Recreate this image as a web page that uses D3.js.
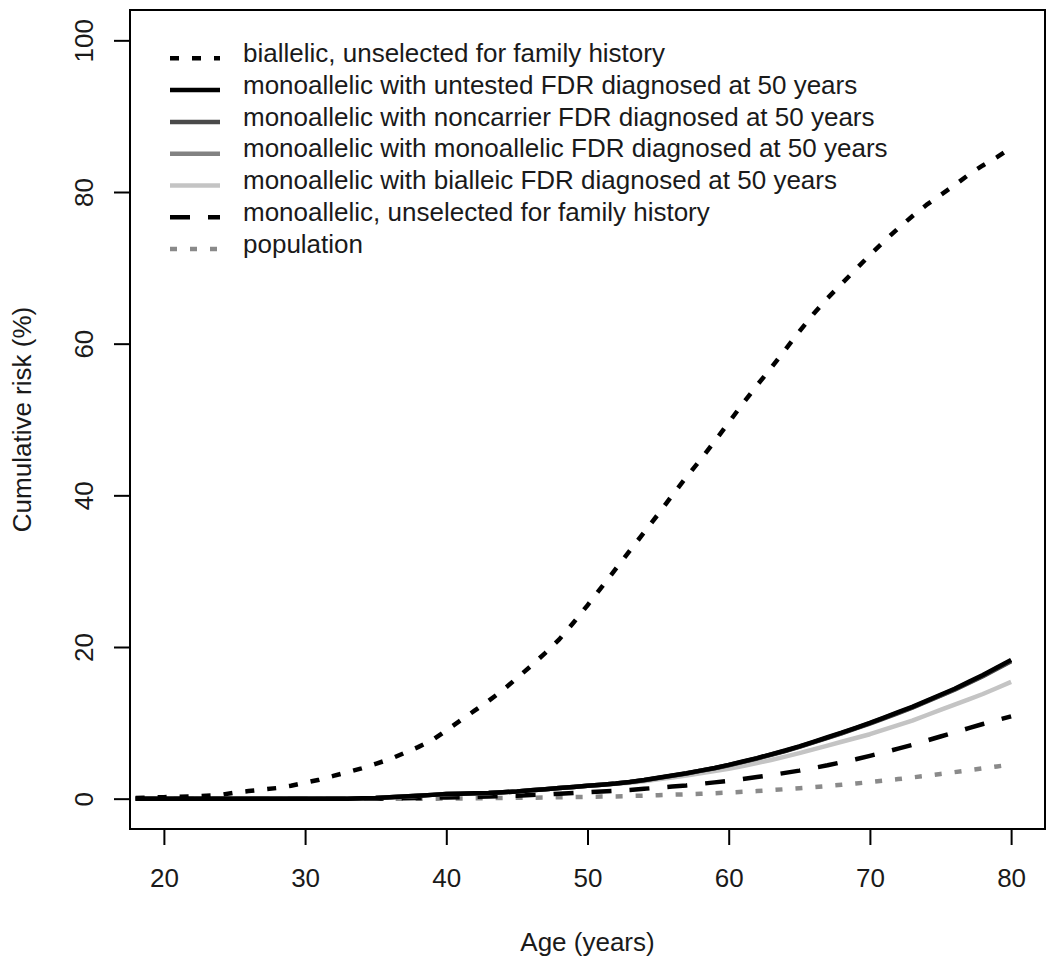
<!DOCTYPE html>
<html>
<head>
<meta charset="utf-8">
<script src="https://cdn.jsdelivr.net/npm/d3@7"></script>
<style>
  html, body { margin: 0; padding: 0; background: #fff; }
  svg { display: block; font-family: "Liberation Sans", Arial, sans-serif; }
</style>
</head>
<body>
<svg id="chart" width="1050" height="965"></svg>
<script>
// ---------- data ----------
const ages = d3.range(18, 81); // 18..80

const biallelic = [0.1,0.15,0.2,0.25,0.3,0.4,0.5,0.8,1.0,1.2,1.4,1.7,2.1,2.5,3.0,3.5,4.0,4.6,5.2,6.0,6.8,7.7,9.0,
  10.3,11.6,12.9,14.3,15.9,17.5,19.2,21.0,23.2,25.5,27.9,30.3,32.7,35.1,37.5,40.0,42.4,44.7,47.1,49.6,
  52.1,54.5,56.8,59.2,61.6,63.9,66.0,67.9,69.8,71.7,73.5,75.2,76.8,78.3,79.6,80.9,82.3,83.5,84.6,85.8];

const untestedFDR = [0,0,0,0,0,0,0,0,0,0,0,0,0,0,0,0,0.05,0.1,0.2,0.3,0.4,0.5,0.6,
  0.65,0.7,0.75,0.85,0.95,1.1,1.25,1.4,1.55,1.7,1.85,2.0,2.2,2.45,2.75,3.05,3.35,3.7,4.05,4.45,
  4.9,5.35,5.85,6.35,6.9,7.5,8.1,8.7,9.35,10.0,10.7,11.4,12.1,12.9,13.7,14.5,15.4,16.3,17.3,18.3];

const noncarrierFDR = [0,0,0,0,0,0,0,0,0,0,0,0,0,0,0,0,0.05,0.1,0.2,0.3,0.4,0.5,0.6,
  0.65,0.7,0.75,0.85,0.95,1.1,1.25,1.4,1.55,1.7,1.84,1.99,2.19,2.43,2.73,3.03,3.32,3.67,4.01,4.41,
  4.85,5.3,5.79,6.29,6.83,7.43,8.02,8.62,9.26,9.91,10.6,11.29,11.99,12.78,13.57,14.37,15.25,16.15,17.13,18.12];

const monoallelicFDR = [0,0,0,0,0,0,0,0,0,0,0,0,0,0,0,0,0.05,0.1,0.2,0.3,0.4,0.5,0.6,
  0.65,0.7,0.75,0.85,0.95,1.1,1.25,1.4,1.55,1.7,1.84,1.99,2.19,2.44,2.74,3.04,3.33,3.68,4.03,4.43,
  4.87,5.32,5.82,6.32,6.86,7.46,8.06,8.66,9.3,9.95,10.65,11.34,12.04,12.84,13.63,14.43,15.32,16.22,17.22,18.2];

const biallelicFDR = [0,0,0,0,0,0,0,0,0,0,0,0,0,0,0,0,0.05,0.1,0.2,0.3,0.4,0.5,0.6,
  0.65,0.7,0.75,0.85,0.95,1.1,1.25,1.4,1.55,1.7,1.83,1.95,2.1,2.3,2.55,2.8,3.05,3.35,3.65,3.95,
  4.3,4.7,5.1,5.55,6.0,6.5,7.0,7.5,8.0,8.5,9.1,9.7,10.3,11.0,11.7,12.4,13.1,13.8,14.6,15.4];

const monoallelicUnselected = [0,0,0,0,0,0,0,0,0,0,0,0,0,0,0,0,0,0,0.02,0.05,0.08,0.12,0.16,
  0.2,0.25,0.3,0.35,0.4,0.48,0.55,0.65,0.75,0.85,0.95,1.05,1.15,1.3,1.45,1.6,1.75,1.95,2.15,2.35,
  2.6,2.85,3.1,3.4,3.7,4.05,4.4,4.8,5.2,5.65,6.1,6.6,7.1,7.65,8.2,8.75,9.3,9.85,10.35,10.85];

const population = [0,0,0,0,0,0,0,0,0,0,0,0,0,0,0,0,0,0,0,0,0,0,0.02,
  0.03,0.05,0.07,0.09,0.11,0.13,0.15,0.18,0.21,0.24,0.27,0.3,0.35,0.4,0.46,0.52,0.58,0.64,0.72,0.8,
  0.9,1.0,1.12,1.25,1.38,1.52,1.67,1.83,2.0,2.18,2.38,2.58,2.8,3.02,3.26,3.5,3.75,4.0,4.25,4.5];

const seriesNames = [
  "biallelic, unselected for family history",
  "monoallelic with untested FDR diagnosed at 50 years",
  "monoallelic with noncarrier FDR diagnosed at 50 years",
  "monoallelic with monoallelic FDR diagnosed at 50 years",
  "monoallelic with bialleic FDR diagnosed at 50 years",
  "monoallelic, unselected for family history",
  "population"
];
const seriesValues = [biallelic, untestedFDR, noncarrierFDR, monoallelicFDR, biallelicFDR, monoallelicUnselected, population];
const seriesColors = ["#000000", "#000000", "#4a4a4a", "#828282", "#c4c4c4", "#000000", "#8a8a8a"];
const seriesDash   = ["9,13", null, null, null, null, "20,18", "7,13"];
// draw order (first drawn = bottom)
const drawOrder = [6, 5, 4, 3, 2, 1, 0];

const xTicks = [20, 30, 40, 50, 60, 70, 80];
const yTicks = [0, 20, 40, 60, 80, 100];

// ---------- layout ----------
const svg = d3.select("#chart");
const mLeft = 130, mRight = 1045, mTop = 10, mBottom = 829;
const x = d3.scaleLinear().domain([17.6, 82.4]).range([mLeft, mRight]);
const y = d3.scaleLinear().domain([-4, 104]).range([mBottom, mTop]);
const textColor = "#1a1a1a";
const FONT = "Liberation Sans, Arial, sans-serif";
const FS = 26;

svg.append("defs").append("clipPath").attr("id", "clip")
  .append("rect").attr("x", mLeft).attr("y", mTop).attr("width", mRight - mLeft).attr("height", mBottom - mTop);

// lines
const line = d3.line().x((d, i) => x(ages[i])).y(d => y(d));
const plotG = svg.append("g").attr("clip-path", "url(#clip)");
drawOrder.forEach(k => {
  plotG.append("path")
    .datum(seriesValues[k])
    .attr("d", line)
    .attr("fill", "none")
    .attr("stroke", seriesColors[k])
    .attr("stroke-width", 4.5)
    .attr("stroke-dasharray", seriesDash[k])
    .attr("stroke-linejoin", "round");
});

// box
svg.append("rect").attr("x", mLeft).attr("y", mTop).attr("width", mRight - mLeft).attr("height", mBottom - mTop)
  .attr("fill", "none").attr("stroke", "#000").attr("stroke-width", 2);

// x axis
const xAxis = svg.append("g").attr("transform", `translate(0,${mBottom})`)
  .call(d3.axisBottom(x).tickValues(xTicks).tickSize(16).tickFormat(d3.format("d")));
xAxis.select(".domain").remove();
xAxis.selectAll(".tick line").attr("stroke", "#000").attr("stroke-width", 2);
xAxis.selectAll(".tick text").attr("y", 58).attr("dy", null)
  .attr("font-size", FS).attr("fill", textColor).attr("font-family", FONT);

// y axis
const yAxis = svg.append("g").attr("transform", `translate(${mLeft},0)`)
  .call(d3.axisLeft(y).tickValues(yTicks).tickSize(16).tickFormat(d3.format("d")));
yAxis.select(".domain").remove();
yAxis.selectAll(".tick line").attr("stroke", "#000").attr("stroke-width", 2);
yAxis.selectAll(".tick text")
  .attr("x", null).attr("dy", null)
  .attr("transform", "translate(-37,0) rotate(-90)")
  .attr("text-anchor", "middle")
  .attr("font-size", FS).attr("fill", textColor).attr("font-family", FONT);

// axis titles
svg.append("text").attr("x", (mLeft + mRight) / 2).attr("y", 951)
  .attr("text-anchor", "middle").attr("font-size", FS).attr("fill", textColor)
  .text("Age (years)");
svg.append("text")
  .attr("transform", `translate(31,${(mTop + mBottom) / 2}) rotate(-90)`)
  .attr("text-anchor", "middle").attr("font-size", FS).attr("fill", textColor)
  .text("Cumulative risk (%)");

// legend
const legend = svg.append("g");
seriesNames.forEach((name, i) => {
  const cy = 58.3 + 31.8 * i;
  legend.append("line")
    .attr("x1", 170).attr("x2", 220).attr("y1", cy).attr("y2", cy)
    .attr("stroke", seriesColors[i]).attr("stroke-width", 4.5)
    .attr("stroke-dasharray", seriesDash[i]);
  legend.append("text")
    .attr("x", 243).attr("y", cy + 3.6)
    .attr("font-size", FS).attr("fill", textColor)
    .text(name);
});
</script>
</body>
</html>
